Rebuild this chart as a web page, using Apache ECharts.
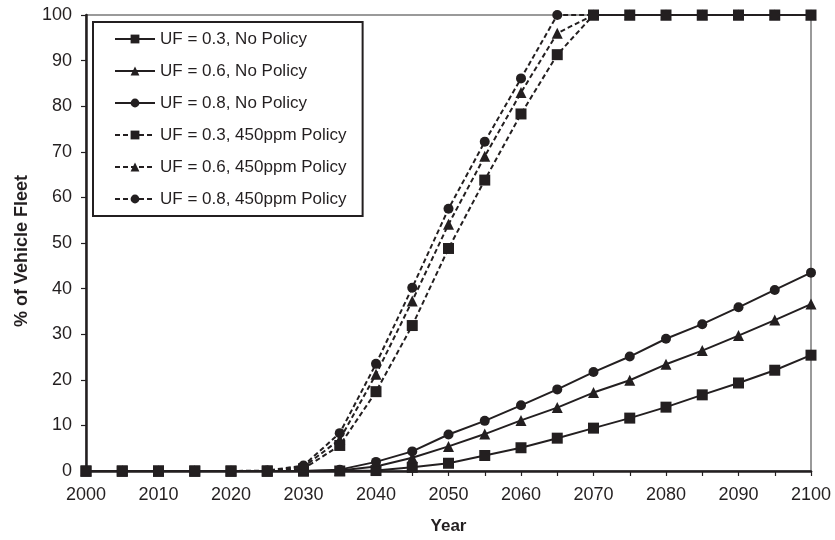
<!DOCTYPE html>
<html>
<head>
<meta charset="utf-8">
<script src="https://cdn.jsdelivr.net/npm/echarts@6/dist/echarts.min.js"></script>
<style>
  html, body { margin: 0; padding: 0; background: #ffffff; }
  #chart { width: 835px; height: 540px; }
</style>
</head>
<body>
<div id="chart"></div>
<script>
// Share of the vehicle fleet by utility factor (UF), with and without a 450ppm policy
const years = [2000, 2005, 2010, 2015, 2020, 2025, 2030, 2035, 2040, 2045, 2050,
               2055, 2060, 2065, 2070, 2075, 2080, 2085, 2090, 2095, 2100];

const uf03NoPolicy = [0, 0, 0, 0, 0, 0, 0, 0, 0.1, 0.8, 1.7, 3.4, 5.1, 7.2, 9.4, 11.6, 14.0, 16.7, 19.3, 22.1, 25.4];
const uf06NoPolicy = [0, 0, 0, 0, 0, 0, 0, 0.1, 1.0, 2.9, 5.4, 8.1, 11.1, 13.9, 17.2, 19.9, 23.4, 26.4, 29.7, 33.1, 36.6];
const uf08NoPolicy = [0, 0, 0, 0, 0, 0, 0, 0.3, 2.0, 4.3, 8.0, 11.0, 14.4, 17.9, 21.7, 25.1, 29.0, 32.2, 35.9, 39.7, 43.5];
const uf03Policy = [0, 0, 0, 0, 0, 0, 0.5, 5.6, 17.4, 31.9, 48.8, 63.8, 78.3, 91.3, 100, 100, 100, 100, 100, 100, 100];
const uf06Policy = [0, 0, 0, 0, 0, 0, 0.9, 6.9, 21.2, 37.3, 54.1, 69.0, 83.0, 96.0, 100, 100, 100, 100, 100, 100, 100];
const uf08Policy = [0, 0, 0, 0, 0, 0.1, 1.2, 8.3, 23.5, 40.2, 57.5, 72.2, 86.1, 100, 100, 100, 100, 100, 100, 100, 100];

const seriesNames = [
  'UF = 0.3, No Policy',
  'UF = 0.6, No Policy',
  'UF = 0.8, No Policy',
  'UF = 0.3, 450ppm Policy',
  'UF = 0.6, 450ppm Policy',
  'UF = 0.8, 450ppm Policy'
];

const INK = '#231f20';
const FONT = '"Liberation Sans", Arial, sans-serif';

function pairs(values) {
  return years.map((y, i) => [y, values[i]]);
}

function makeSeries(name, values, symbol, size, dashed) {
  return {
    name: name,
    type: 'line',
    data: pairs(values),
    symbol: symbol,
    symbolSize: size,
    showAllSymbol: true,
    lineStyle: { color: INK, width: 2, type: dashed ? [5, 3] : 'solid' },
    itemStyle: { color: INK, borderWidth: 0 },
    emphasis: { disabled: true }
  };
}

const chart = echarts.init(document.getElementById('chart'), null, { renderer: 'canvas' });

chart.setOption({
  animation: false,
  backgroundColor: '#ffffff',
  textStyle: { fontFamily: FONT, color: INK },
  grid: {
    left: 86, right: 24, top: 15, bottom: 65,
    show: true,
    borderColor: '#7a7a7a',
    borderWidth: 1.5,
    backgroundColor: 'transparent'
  },
  legend: {
    orient: 'vertical',
    left: 93,
    top: 22,
    padding: [7, 16, 7, 21],
    itemWidth: 40,
    itemHeight: 11,
    itemGap: 12,
    backgroundColor: '#ffffff',
    borderColor: INK,
    borderWidth: 2,
    borderRadius: 0,
    textStyle: { fontFamily: FONT, fontSize: 17, color: INK, lineHeight: 20 },
    data: seriesNames
  },
  xAxis: {
    type: 'value',
    min: 2000,
    max: 2100,
    interval: 5,
    name: 'Year',
    nameLocation: 'middle',
    nameGap: 47,
    nameTextStyle: { fontFamily: FONT, fontSize: 17, fontWeight: 'bold', color: INK },
    axisLine: { onZero: false, lineStyle: { color: INK, width: 2.5 } },
    axisTick: { show: true, inside: false, length: 5, lineStyle: { color: INK, width: 1.2 } },
    axisLabel: {
      margin: 15,
      fontFamily: FONT,
      fontSize: 18,
      color: INK,
      formatter: v => (v % 10 === 0 ? String(v) : '')
    },
    splitLine: { show: false }
  },
  yAxis: {
    type: 'value',
    min: 0,
    max: 100,
    interval: 10,
    name: '% of Vehicle Fleet',
    nameLocation: 'middle',
    nameGap: 52,
    nameTextStyle: { fontFamily: FONT, fontSize: 18, fontWeight: 'bold', color: INK, padding: [0, 16, 0, 0] },
    axisLine: { onZero: false, lineStyle: { color: INK, width: 2.5 } },
    axisTick: { show: true, inside: false, length: 5, lineStyle: { color: INK, width: 1.2 } },
    axisLabel: { margin: 14, fontFamily: FONT, fontSize: 18, color: INK },
    splitLine: { show: false }
  },
  series: [
    makeSeries(seriesNames[0], uf03NoPolicy, 'rect', 11, false),
    makeSeries(seriesNames[1], uf06NoPolicy, 'triangle', 11, false),
    makeSeries(seriesNames[2], uf08NoPolicy, 'circle', 10, false),
    makeSeries(seriesNames[3], uf03Policy, 'rect', 11, true),
    makeSeries(seriesNames[4], uf06Policy, 'triangle', 11, true),
    makeSeries(seriesNames[5], uf08Policy, 'circle', 10, true)
  ]
});
</script>
</body>
</html>
